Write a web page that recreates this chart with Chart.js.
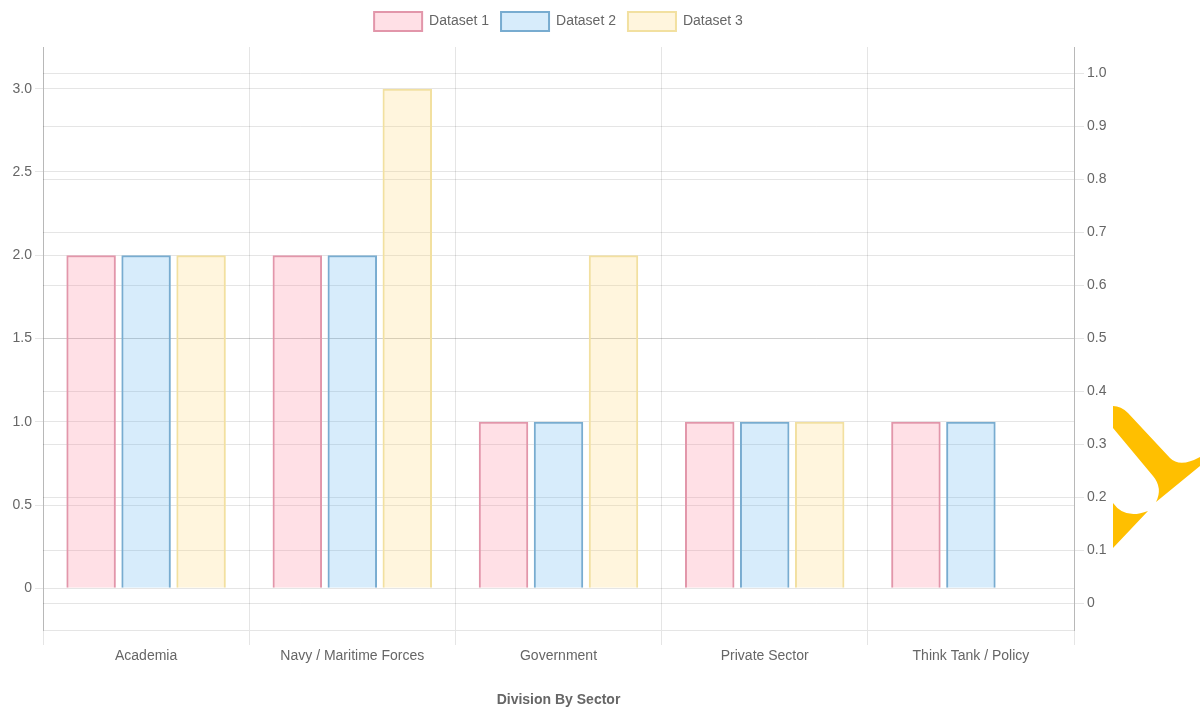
<!DOCTYPE html>
<html>
<head>
<meta charset="utf-8">
<script src="https://cdn.jsdelivr.net/npm/chart.js@4/dist/chart.umd.min.js"></script>
<style>
  html, body { margin: 0; padding: 0; background: #fff; }
  #wrap { width: 1200px; height: 709px; position: relative; }
</style>
</head>
<body>
<div id="wrap"><canvas id="c" width="1200" height="709"></canvas></div>
<script>
const categories = ['Academia', 'Navy / Maritime Forces', 'Government', 'Private Sector', 'Think Tank / Policy'];
const seriesNames = ['Dataset 1', 'Dataset 2', 'Dataset 3'];
const dataset1 = [2, 2, 1, 1, 1];
const dataset2 = [2, 2, 1, 1, 1];
const dataset3 = [2, 3, 2, 1, 0];
const leftTicks = [0, 0.5, 1, 1.5, 2, 2.5, 3];
const rightTicks = [0, 0.1, 0.2, 0.3, 0.4, 0.5, 0.6, 0.7, 0.8, 0.9, 1.0];
const xTitle = 'Division By Sector';

const FONT = "'Liberation Sans', Arial, sans-serif";
const gridColor = 'rgba(0,0,0,0.1)';
const textColor = '#666';

function fmt(v) { return v === 0 ? '0' : Number(v).toFixed(1); }

const logoPlugin = {
  id: 'logo',
  afterDraw(chart) {
    const ctx = chart.ctx;
    ctx.save();
    ctx.fillStyle = '#ffbf00';
    ctx.beginPath();
    ctx.moveTo(1113, 428);
    ctx.lineTo(1113, 406);
    ctx.quadraticCurveTo(1121, 406, 1128, 413);
    ctx.lineTo(1170, 458);
    ctx.quadraticCurveTo(1180, 468, 1200, 457);
    ctx.lineTo(1200, 466);
    ctx.lineTo(1156, 502);
    ctx.quadraticCurveTo(1163, 488, 1153, 476);
    ctx.closePath();
    ctx.fill();
    ctx.beginPath();
    ctx.moveTo(1113, 503);
    ctx.quadraticCurveTo(1125, 520, 1148, 511);
    ctx.lineTo(1113, 548);
    ctx.closePath();
    ctx.fill();
    ctx.restore();
  }
};

const legendHeightPlugin = {
  id: 'legendHeight',
  beforeInit(chart) {
    const lg = chart.legend;
    const orig = lg.fit;
    lg.fit = function () { orig.call(this); this.height = 47; };
  }
};

new Chart(document.getElementById('c'), {
  type: 'bar',
  data: {
    labels: categories,
    datasets: [
      { label: seriesNames[0], data: dataset1, yAxisID: 'y',
        backgroundColor: 'rgba(255,99,132,0.2)', borderColor: 'rgb(226,150,170)', borderWidth: 2 },
      { label: seriesNames[1], data: dataset2, yAxisID: 'y',
        backgroundColor: 'rgba(54,162,235,0.2)', borderColor: 'rgb(120,172,208)', borderWidth: 2 },
      { label: seriesNames[2], data: dataset3, yAxisID: 'y',
        backgroundColor: 'rgba(255,206,86,0.2)', borderColor: 'rgb(242,224,160)', borderWidth: 2 }
    ]
  },
  options: {
    responsive: false,
    animation: false,
    layout: { padding: { left: 0, right: 0, top: 0, bottom: 0 } },
    plugins: {
      legend: {
        position: 'top',
        fullSize: false,
        labels: { boxWidth: 48, boxHeight: 19, padding: 12, color: textColor, font: { family: FONT, size: 14 } }
      },
      tooltip: { enabled: false }
    },
    scales: {
      x: {
        grid: { color: gridColor, offset: true, tickLength: 15, drawOnChartArea: true },
        border: { display: true, color: gridColor },
        ticks: { color: textColor, font: { family: FONT, size: 14 }, padding: 3, maxRotation: 0 },
        title: { display: true, text: xTitle, color: textColor, font: { family: FONT, size: 14, weight: 'bold' }, padding: { top: 4, bottom: 0 } },
        afterFit(scale) { scale.height = 79; }
      },
      y: {
        position: 'left',
        min: -0.25, max: 3.25,
        afterBuildTicks(scale) { scale.ticks = leftTicks.map(v => ({ value: v })); },
        grid: { color: gridColor, tickLength: 8 },
        border: { display: true, color: 'rgba(0,0,0,0.2)' },
        ticks: { color: textColor, font: { family: FONT, size: 14 }, padding: 3, callback: v => fmt(v) },
        afterFit(scale) { scale.width = 43; }
      },
      y1: {
        position: 'right',
        min: -0.05, max: 1.05,
        afterBuildTicks(scale) { scale.ticks = rightTicks.map(v => ({ value: v })); },
        grid: { color: gridColor, tickLength: 10 },
        border: { display: true, color: 'rgba(0,0,0,0.2)' },
        ticks: { color: textColor, font: { family: FONT, size: 14 }, padding: 3, callback: v => fmt(v) },
        afterFit(scale) { scale.width = 126; }
      }
    }
  },
  plugins: [legendHeightPlugin, logoPlugin]
});
</script>
</body>
</html>
